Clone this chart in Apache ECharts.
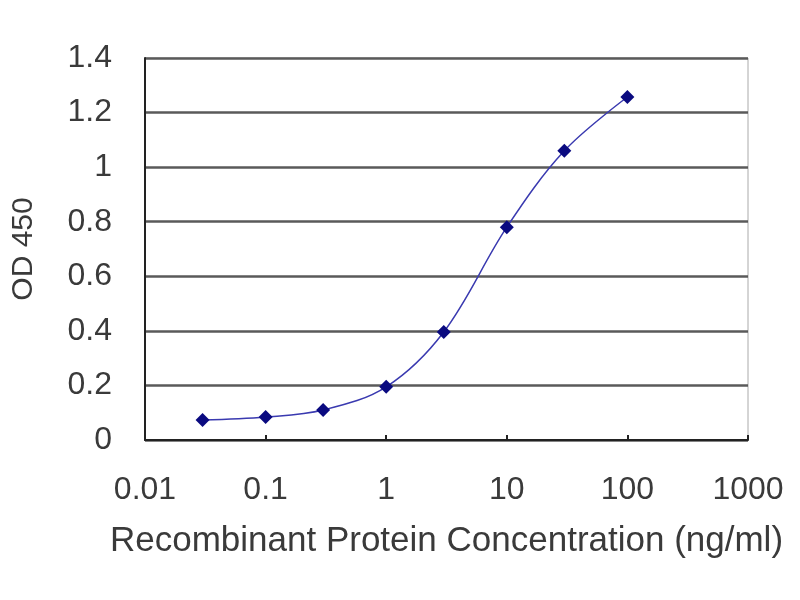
<!DOCTYPE html>
<html>
<head>
<meta charset="utf-8">
<script src="https://cdn.jsdelivr.net/npm/echarts@6/dist/echarts.min.js"></script>
<style>
html, body { margin: 0; padding: 0; background: #fff; }
#chart { width: 800px; height: 600px; }
</style>
</head>
<body>
<div id="chart"></div>
<script>
// concentration (ng/ml) vs OD 450
var concentrations = [0.03, 0.1, 0.3, 1, 3, 10, 30, 100];
var odValues = [0.073, 0.084, 0.11, 0.195, 0.396, 0.78, 1.06, 1.257];
var xTitle = 'Recombinant Protein Concentration (ng/ml)';
var yTitle = 'OD 450';

var points = [];
for (var i = 0; i < concentrations.length; i++) {
    points.push([concentrations[i], odValues[i]]);
}

var txt = '#3a3a3a';
var chart = echarts.init(document.getElementById('chart'));
chart.setOption({
    animation: false,
    backgroundColor: '#fff',
    grid: {
        left: 145,
        right: 52,
        top: 58,
        bottom: 160,
        show: true,
        borderColor: '#aaa',
        borderWidth: 1
    },
    xAxis: {
        type: 'log',
        logBase: 10,
        min: 0.01,
        max: 1000,
        name: xTitle,
        nameLocation: 'middle',
        nameGap: 84,
        nameTextStyle: { fontFamily: 'Liberation Sans', fontSize: 35, color: txt },
        axisLine: { lineStyle: { color: '#222', width: 2 } },
        axisTick: { inside: true, length: 5, lineStyle: { color: '#222', width: 2 } },
        axisLabel: {
            fontFamily: 'Liberation Sans', fontSize: 32, color: txt, margin: 34,
            formatter: function (v) { return String(+v.toPrecision(6)); }
        },
        splitLine: { show: false },
        minorTick: { show: false }
    },
    yAxis: {
        type: 'value',
        min: 0,
        max: 1.4,
        interval: 0.2,
        name: yTitle,
        nameLocation: 'middle',
        nameGap: 106,
        nameRotate: 90,
        nameTextStyle: { fontFamily: 'Liberation Sans', fontSize: 30, color: txt },
        axisLine: { show: true, lineStyle: { color: '#222', width: 2 } },
        axisTick: { show: false },
        axisLabel: {
            fontFamily: 'Liberation Sans', fontSize: 32, color: txt, margin: 33,
            formatter: function (v) { return String(+v.toFixed(1)); }
        },
        splitLine: { show: true, lineStyle: { color: '#5a5a5a', width: 2.5 } }
    },
    series: [{
        type: 'line',
        data: points,
        smooth: 0.35,
        symbol: 'diamond',
        symbolSize: 14,
        lineStyle: { color: '#3a3ab0', width: 1.5 },
        itemStyle: { color: '#0a0a80', borderWidth: 0 }
    }]
});
</script>
</body>
</html>
